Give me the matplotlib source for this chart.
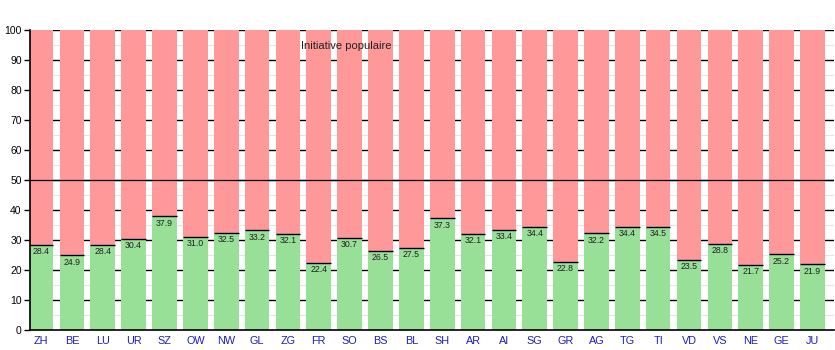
import matplotlib
matplotlib.use("Agg")
import matplotlib.pyplot as plt
import numpy as np

plt.rcParams['font.family'] = ['Liberation Sans', 'DejaVu Sans']

cantons = ["ZH", "BE", "LU", "UR", "SZ", "OW", "NW", "GL", "ZG", "FR", "SO", "BS", "BL",
           "SH", "AR", "AI", "SG", "GR", "AG", "TG", "TI", "VD", "VS", "NE", "GE", "JU"]
yes_pct = [28.4, 24.9, 28.4, 30.4, 37.9, 31.0, 32.5, 33.2, 32.1, 22.4, 30.7, 26.5, 27.5,
           37.3, 32.1, 33.4, 34.4, 22.8, 32.2, 34.4, 34.5, 23.5, 28.8, 21.7, 25.2, 21.9]
title_text = "Initiative populaire"

yes = np.array(yes_pct)
no = 100 - yes
x = np.arange(len(cantons))
w = 0.8

fig = plt.figure(figsize=(8.35, 3.5), dpi=100)
ax = fig.add_axes([30/835, 20/350, 804/835, 300/350])

green = "#98e098"
red = "#ff9999"

# background grid: light minor lines, dark major lines
for v in range(5, 100, 10):
    ax.axhline(v, color="#e4e4e4", lw=0.8, zorder=0)
for v in range(10, 101, 10):
    ax.axhline(v, color="black", lw=1.0, zorder=0)

ax.bar(x, yes, width=w, color=green, zorder=2)
ax.bar(x, no, width=w, bottom=yes, color=red, zorder=2)
ax.hlines(yes, x - w/2, x + w/2, color="black", lw=1.0, zorder=3)

for xi, v in zip(x, yes):
    ax.text(xi, v - 0.8, f"{v:.1f}", ha="center", va="top", fontsize=6.3,
            color="#202020", zorder=4)

ax.axhline(50, color="black", lw=0.9, zorder=4)

ax.text(9.9, 94.7, title_text, ha="center", va="center", fontsize=8, color="#222222", zorder=4)

ax.set_xlim(-0.36, 25.7)
ax.set_ylim(0, 100)
ax.set_yticks(range(0, 101, 10))
ax.set_yticks(range(5, 100, 10), minor=True)
ax.tick_params(axis="y", which="major", length=4, width=1, direction="out", labelsize=7.5, pad=2)
ax.tick_params(axis="y", which="minor", length=3, width=1, direction="in")
ax.set_xticks(x)
ax.set_xticklabels(cantons, color="#1c1cc8", fontsize=7.8)
ax.tick_params(axis="x", length=0, pad=4)

for s in ["top", "right"]:
    ax.spines[s].set_visible(False)
ax.spines["left"].set_linewidth(1.2)
ax.spines["bottom"].set_linewidth(1.2)
ax.spines["left"].set_zorder(5)
ax.spines["bottom"].set_zorder(5)

fig.savefig("out.png", dpi=100)
